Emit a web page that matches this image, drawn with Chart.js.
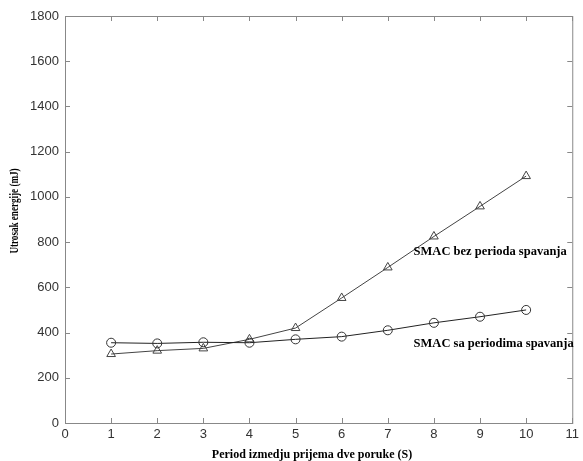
<!DOCTYPE html>
<html>
<head>
<meta charset="utf-8">
<script src="https://cdn.jsdelivr.net/npm/chart.js@4.4.0/dist/chart.umd.min.js"></script>
<style>
  html, body { margin: 0; padding: 0; background: #fff; }
  #wrap { width: 583px; height: 461px; position: relative; }
</style>
</head>
<body>
<div id="wrap"><canvas id="energyChart"></canvas></div>
<script>
// values
const periods = [1, 2, 3, 4, 5, 6, 7, 8, 9, 10];
const withSleep = [355, 352, 357, 355, 370, 382, 410, 443, 470, 500];      // circles
const withoutSleep = [305, 320, 330, 370, 420, 553, 688, 825, 958, 1092];  // triangles
const xTicks = [0, 1, 2, 3, 4, 5, 6, 7, 8, 9, 10, 11];
const yTicks = [0, 200, 400, 600, 800, 1000, 1200, 1400, 1600, 1800];

const labelFont = "bold 12.5px 'Liberation Serif', 'DejaVu Serif', serif";

// MATLAB style: ticks pointing into the box on all four sides, plus titles and curve labels
const boxExtras = {
    id: "boxExtras",
    afterDraw(chart) {
        const ctx = chart.ctx;
        const a = chart.chartArea;
        const xs = chart.scales.x, ys = chart.scales.y;
        ctx.save();
        ctx.strokeStyle = "#888";
        ctx.lineWidth = 1;
        ctx.beginPath();
        xTicks.forEach(v => {
            const px = Math.round(xs.getPixelForValue(v)) + 0.5;
            ctx.moveTo(px, a.bottom); ctx.lineTo(px, a.bottom - 5);
            ctx.moveTo(px, a.top); ctx.lineTo(px, a.top + 5);
        });
        yTicks.forEach(v => {
            const py = Math.round(ys.getPixelForValue(v)) + 0.5;
            ctx.moveTo(a.left, py); ctx.lineTo(a.left + 5, py);
            ctx.moveTo(a.right, py); ctx.lineTo(a.right - 5, py);
        });
        ctx.stroke();
        ctx.strokeRect(a.left + 0.5, a.top + 0.5, a.right - a.left, a.bottom - a.top);

        ctx.fillStyle = "#000";
        ctx.font = labelFont;
        ctx.textBaseline = "middle";
        ctx.textAlign = "left";
        ctx.fillText("SMAC bez perioda spavanja", xs.getPixelForValue(7.56), ys.getPixelForValue(756));
        ctx.fillText("SMAC sa periodima spavanja", xs.getPixelForValue(7.56), ys.getPixelForValue(349));

        ctx.font = "bold 12px 'Liberation Serif', 'DejaVu Serif', serif";
        ctx.textAlign = "center";
        ctx.fillText("Period izmedju prijema dve poruke (S)", 312, 455);

        // y title is narrow in the original, squeeze it along its length
        ctx.font = "bold 13px 'Liberation Serif', 'DejaVu Serif', serif";
        ctx.translate(15, 211);
        ctx.rotate(-Math.PI / 2);
        ctx.scale(0.7, 1);
        ctx.fillText("Utrosak energije (mJ)", 0, 0);
        ctx.restore();
    }
};

const ctx = document.getElementById("energyChart").getContext("2d");
new Chart(ctx, {
    type: "line",
    data: {
        datasets: [{
            label: "SMAC sa periodima spavanja",
            data: periods.map((p, i) => ({ x: p, y: withSleep[i] })),
            borderColor: "#222",
            borderWidth: 1,
            pointStyle: "circle",
            pointRadius: 4.5,
            pointBorderColor: "#333",
            pointBackgroundColor: "rgba(0,0,0,0)",
            pointBorderWidth: 1,
            tension: 0
        }, {
            label: "SMAC bez perioda spavanja",
            data: periods.map((p, i) => ({ x: p, y: withoutSleep[i] })),
            borderColor: "#444",
            borderWidth: 1,
            pointStyle: "triangle",
            pointRadius: 5,
            pointBorderColor: "#444",
            pointBackgroundColor: "rgba(0,0,0,0)",
            pointBorderWidth: 1,
            tension: 0
        }]
    },
    options: {
        responsive: true,
        maintainAspectRatio: false,
        animation: false,
        layout: { padding: { top: 16, right: 7, left: 0, bottom: 0 } },
        plugins: {
            legend: { display: false },
            tooltip: { enabled: false }
        },
        scales: {
            x: {
                type: "linear",
                min: 0, max: 11,
                afterBuildTicks: s => { s.ticks = xTicks.map(v => ({ value: v })); },
                afterFit: s => { s.height = 38; },
                grid: { display: false, drawTicks: false },
                border: { display: false },
                ticks: {
                    color: "#333",
                    padding: 4,
                    maxRotation: 0,
                    callback: v => String(v),
                    font: { family: "'Liberation Sans', Arial, sans-serif", size: 13 }
                }
            },
            y: {
                min: 0, max: 1800,
                afterBuildTicks: s => { s.ticks = yTicks.map(v => ({ value: v })); },
                afterFit: s => { s.width = 65; },
                grid: { display: false, drawTicks: false },
                border: { display: false },
                ticks: {
                    color: "#333",
                    padding: 6,
                    callback: v => String(v),
                    font: { family: "'Liberation Sans', Arial, sans-serif", size: 13 }
                }
            }
        }
    },
    plugins: [boxExtras]
});
</script>
</body>
</html>
